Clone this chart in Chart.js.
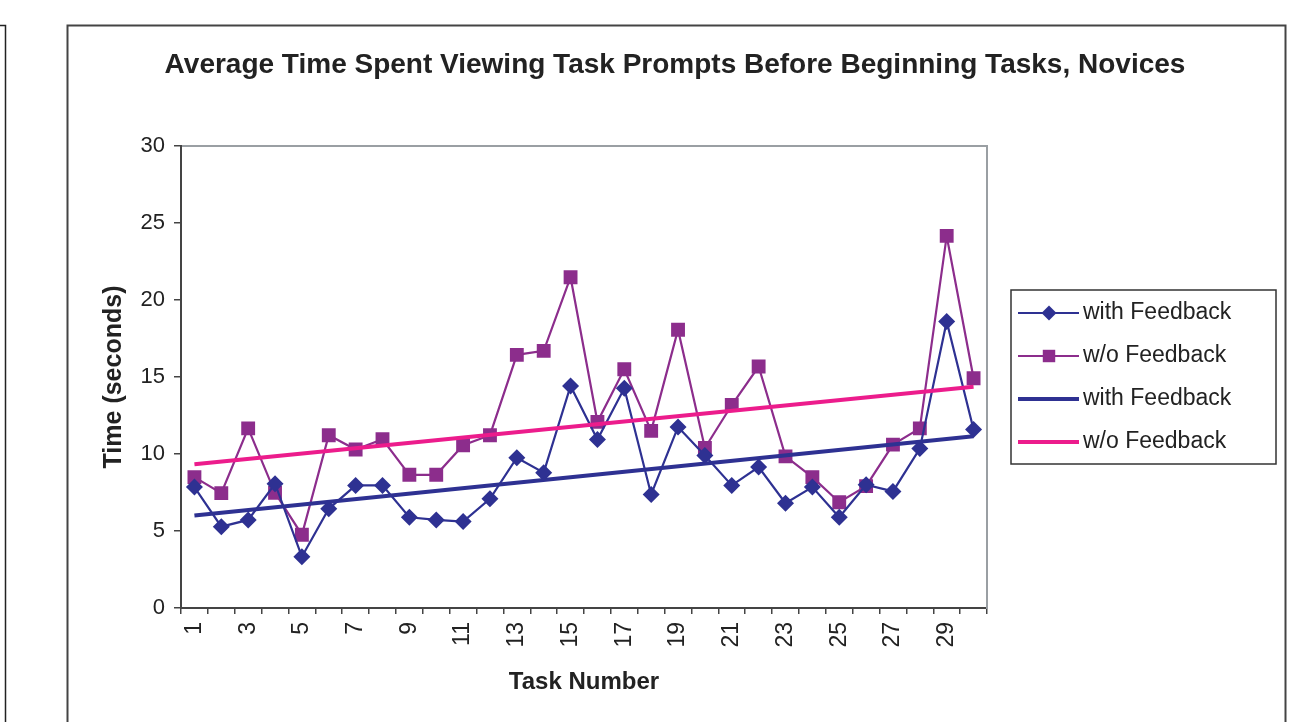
<!DOCTYPE html>
<html>
<head>
<meta charset="utf-8">
<title>Average Time Spent Viewing Task Prompts Before Beginning Tasks, Novices</title>
<script src="https://cdn.jsdelivr.net/npm/chart.js@4.4.1/dist/chart.umd.min.js"></script>
<style>
  html, body { margin: 0; padding: 0; background: #fff; }
  #wrap { width: 1316px; height: 722px; }
</style>
</head>
<body>
<div id="wrap"><canvas id="timeChart" width="1316" height="722"></canvas></div>
<script>
  // categories
  const taskNumbers = ['1', '2', '3', '4', '5', '6', '7', '8', '9', '10',
    '11', '12', '13', '14', '15', '16', '17', '18', '19', '20',
    '21', '22', '23', '24', '25', '26', '27', '28', '29', '30'];

  // seconds
  const withFeedback = [7.85, 5.28, 5.72, 8.07, 3.33, 6.44, 7.96, 7.96, 5.89, 5.72,
    5.61, 7.09, 9.76, 8.79, 14.42, 10.94, 14.27, 7.37, 11.76, 9.9,
    7.96, 9.15, 6.8, 7.85, 5.89, 8.0, 7.57, 10.35, 18.61, 11.59];
  const withoutFeedback = [8.5, 7.46, 11.66, 7.48, 4.76, 11.22, 10.29, 10.96, 8.65, 8.65,
    10.57, 11.22, 16.44, 16.7, 21.48, 12.09, 15.5, 11.5, 18.07, 10.39,
    13.18, 15.68, 9.85, 8.5, 6.87, 7.91, 10.61, 11.66, 24.16, 14.92];

  // linear trend lines, value at task 1 and at task 30
  const trendTasks = ['1', '30'];
  const trendWith = [6.0, 11.15];
  const trendWithout = [9.33, 14.37];

  const legendLabels = ['with Feedback', 'w/o Feedback', 'with Feedback', 'w/o Feedback'];

  const navy = '#2E3192';
  const purple = '#8C2D8C';
  const pink = '#EC1C8C';
  const textColor = '#222';
  const fontFamily = '"Liberation Sans", Arial, sans-serif';

  // outer frames and background
  const framePlugin = {
    id: 'frame',
    beforeDraw(chart) {
      const ctx = chart.ctx;
      ctx.save();
      ctx.fillStyle = '#fff';
      ctx.fillRect(0, 0, chart.width, chart.height);
      ctx.strokeStyle = '#222';
      ctx.lineWidth = 1.5;
      ctx.beginPath();
      ctx.moveTo(0, 25.5);
      ctx.lineTo(5.5, 25.5);
      ctx.lineTo(5.5, 740);
      ctx.stroke();
      ctx.strokeStyle = '#444';
      ctx.lineWidth = 2;
      ctx.strokeRect(67.5, 25.5, 1218, 720);
      ctx.restore();
    }
  };

  // legend with line + marker samples
  const legendPlugin = {
    id: 'legendBox',
    afterDraw(chart) {
      const ctx = chart.ctx;
      ctx.save();
      ctx.strokeStyle = '#333';
      ctx.lineWidth = 1.5;
      ctx.strokeRect(1011, 290, 265, 174);
      chart.data.datasets.forEach((ds, i) => {
        const y = 313 + i * 43;
        ctx.strokeStyle = ds.borderColor;
        ctx.lineWidth = ds.borderWidth;
        ctx.beginPath();
        ctx.moveTo(1018, y);
        ctx.lineTo(1079, y);
        ctx.stroke();
        if (ds.pointRadius > 0) {
          ctx.fillStyle = ds.pointBackgroundColor;
          Chart.helpers.drawPoint(ctx, {
            pointStyle: ds.pointStyle, radius: ds.pointRadius - 1, rotation: 0, borderWidth: 0
          }, 1049, y);
        }
        ctx.fillStyle = textColor;
        ctx.font = '23px ' + fontFamily;
        ctx.textBaseline = 'middle';
        ctx.fillText(legendLabels[i], 1083, y);
      });
      ctx.restore();
    }
  };

  const ctx = document.getElementById('timeChart').getContext('2d');
  new Chart(ctx, {
    type: 'line',
    data: {
      labels: taskNumbers,
      datasets: [{
        label: 'with Feedback',
        data: withFeedback,
        borderColor: navy,
        backgroundColor: navy,
        pointBackgroundColor: navy,
        pointBorderWidth: 0,
        borderWidth: 2.2,
        pointStyle: 'rectRot',
        pointRadius: 8.5,
        tension: 0,
        order: 2
      }, {
        label: 'w/o Feedback',
        data: withoutFeedback,
        borderColor: purple,
        backgroundColor: purple,
        pointBackgroundColor: purple,
        pointBorderWidth: 0,
        borderWidth: 2.2,
        pointStyle: 'rect',
        pointRadius: 9.8,
        tension: 0,
        order: 2
      }, {
        label: 'with Feedback',
        data: trendTasks.map((t, i) => ({ x: t, y: trendWith[i] })),
        borderColor: navy,
        borderWidth: 4,
        pointRadius: 0,
        order: 1
      }, {
        label: 'w/o Feedback',
        data: trendTasks.map((t, i) => ({ x: t, y: trendWithout[i] })),
        borderColor: pink,
        borderWidth: 4,
        pointRadius: 0,
        order: 1
      }]
    },
    options: {
      responsive: false,
      animation: false,
      layout: { padding: { left: 34, right: 0, top: 0, bottom: 0 } },
      plugins: {
        legend: { display: false },
        tooltip: { enabled: false },
        title: {
          display: true,
          text: 'Average Time Spent Viewing Task Prompts Before Beginning Tasks, Novices',
          color: textColor,
          font: { family: fontFamily, size: 28, weight: 'bold' },
          padding: { top: 48.2, bottom: 0 }
        }
      },
      scales: {
        x: {
          type: 'category',
          position: 'bottom',
          offset: true,
          afterFit: s => { s.height = 114; },
          grid: { offset: true, drawOnChartArea: false, color: '#444', lineWidth: 1.5, tickLength: 6 },
          border: { color: '#444', width: 2 },
          ticks: {
            autoSkip: false,
            maxRotation: 90,
            minRotation: 90,
            padding: 8,
            color: textColor,
            font: { family: fontFamily, size: 23 },
            callback: function (value, index) {
              return index % 2 === 0 ? this.getLabelForValue(value) : '';
            }
          },
          title: {
            display: true,
            text: 'Task Number',
            color: textColor,
            font: { family: fontFamily, size: 24, weight: 'bold' },
            padding: { top: 4, bottom: 25.6 }
          }
        },
        xTop: {
          type: 'category',
          position: 'top',
          afterFit: s => { s.height = 64.2; },
          grid: { display: false },
          ticks: { display: false },
          border: { color: '#9a9fa3', width: 2 }
        },
        y: {
          position: 'left',
          min: 0,
          max: 30,
          afterFit: s => { s.width = 147; },
          grid: { drawOnChartArea: false, color: '#444', lineWidth: 1.5, tickLength: 7 },
          border: { color: '#444', width: 2 },
          ticks: {
            stepSize: 5,
            padding: 9,
            color: textColor,
            font: { family: fontFamily, size: 22 }
          },
          title: {
            display: true,
            text: 'Time (seconds)',
            color: textColor,
            font: { family: fontFamily, size: 25, weight: 'bold' },
            padding: { top: 65, bottom: 0 }
          }
        },
        yRight: {
          position: 'right',
          min: 0,
          max: 30,
          afterFit: s => { s.width = 329; },
          grid: { display: false },
          ticks: { display: false },
          border: { color: '#9a9fa3', width: 2 }
        }
      }
    },
    plugins: [framePlugin, legendPlugin]
  });
</script>
</body>
</html>
